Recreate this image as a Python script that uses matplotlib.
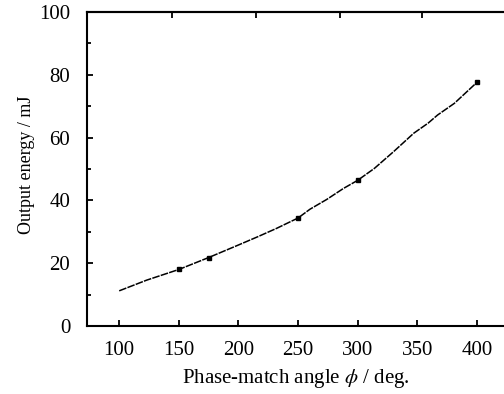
import matplotlib
matplotlib.use("Agg")
import matplotlib.pyplot as plt
from matplotlib.ticker import MultipleLocator

# Curve
angle = [100, 123, 150, 175, 200, 216, 232, 250, 260, 274, 288, 300, 314, 330, 347, 359, 367, 381, 400]
energy = [11.2, 14.6, 18.0, 21.8, 25.8, 28.4, 31.1, 34.4, 37.2, 40.3, 43.8, 46.4, 50.2, 55.5, 61.4, 64.6, 67.2, 70.9, 77.6]
# Measured points (square markers)
meas_angle = [150, 175, 250, 300, 400]
meas_energy = [18.0, 21.8, 34.4, 46.4, 77.6]

xticks = [100, 150, 200, 250, 300, 350, 400]
yticks = [0, 20, 40, 60, 80, 100]
top_ticks = [144.5, 215, 285, 354]

plt.rcParams['font.family'] = ['Liberation Serif', 'DejaVu Serif']
plt.rcParams['mathtext.fontset'] = 'stix'

fig = plt.figure(figsize=(5.04, 3.94), dpi=100)
ax = fig.add_axes([87/504, 68/394, 418/504, 314/394])

ax.plot(angle, energy, color='black', lw=1.1, dashes=(5, 0.8))
ax.plot(meas_angle, meas_energy, ls='none', marker='s', ms=3.5, color='black')

ax.set_xlim(73, 423.5)
ax.set_ylim(0, 100)
ax.set_xticks(xticks)
ax.set_yticks(yticks)
ax.yaxis.set_minor_locator(MultipleLocator(10))
ax.tick_params(axis='both', which='both', direction='in', labelsize=15, width=1.3)
ax.tick_params(axis='both', which='major', length=4)
ax.tick_params(axis='y', which='minor', length=3)
ax.tick_params(axis='y', which='major', pad=12)
ax.tick_params(axis='x', which='major', pad=11)

sec = ax.secondary_xaxis('top')
sec.set_xticks(top_ticks)
sec.set_xticklabels([])
sec.tick_params(direction='in', length=4, width=1.3)
sec.spines['top'].set_linewidth(1.5)

for s in ['left', 'bottom', 'top']:
    ax.spines[s].set_linewidth(1.5)
ax.spines['right'].set_visible(False)

ax.set_xlabel(r'Phase-match angle $\phi$ / deg.', fontsize=15, labelpad=5)
ax.set_ylabel('Output energy / mJ', fontsize=13)
ax.yaxis.set_label_coords(-0.125, 0.515)

fig.savefig('out.png', dpi=100)
